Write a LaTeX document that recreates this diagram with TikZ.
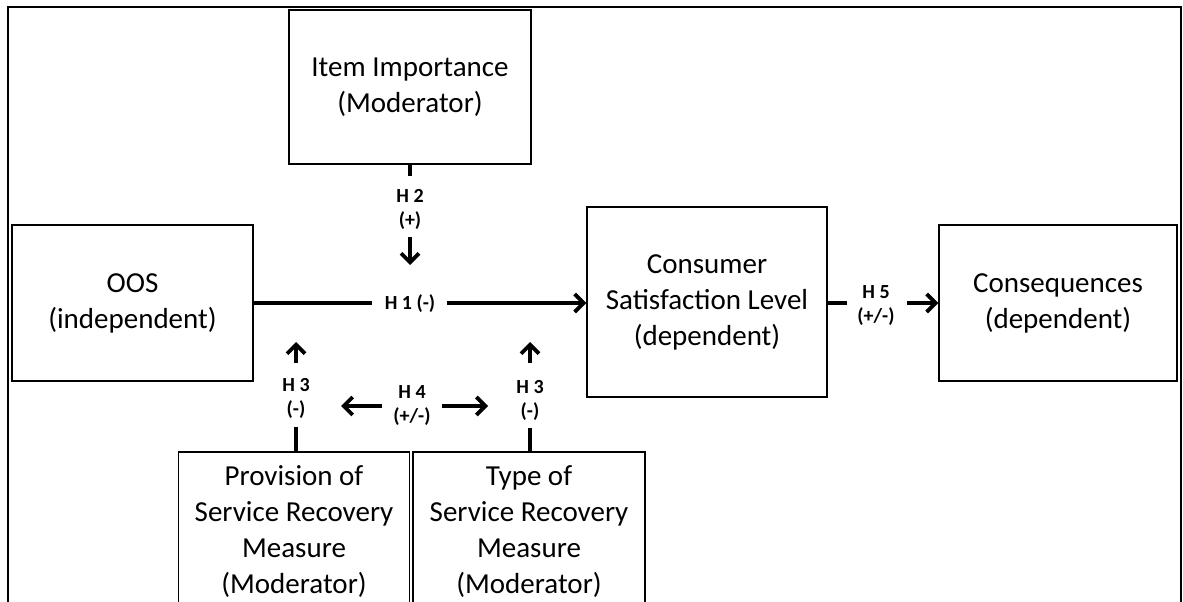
\documentclass[tikz,border=0pt]{standalone}
\usepackage{fontspec}
\setmainfont{Carlito}
\usetikzlibrary{arrows.meta}
\begin{document}
\begin{tikzpicture}[x=1pt,y=-1pt,
  box/.style={draw=black, line width=1.4pt, align=center, inner sep=0pt,
              font=\fontsize{29}{36}\selectfont},
  hyp/.style={align=center, inner sep=0pt, font=\fontsize{20}{24}\selectfont\bfseries},
  stem/.style={line width=3.8pt},
  arr/.style={line width=3.8pt, -{Straight Barb[length=9pt,width=18pt]}},
  frame/.style={line width=2.6pt}]
\useasboundingbox (0,0) rectangle (1183,602);
\clip (0,0) rectangle (1183,602);

% outer frame (open at the bottom)
\draw[frame] (8,620) -- (8,7) -- (1181,7) -- (1181,620);

% constructs
\node[box, minimum width=242pt, minimum height=154pt] (imp) at (410,87)
  {Item Importance\\(Moderator)};
\node[box, minimum width=241pt, minimum height=156pt] (oos) at (132.5,303)
  {OOS\\(independent)};
\node[box, minimum width=240pt, minimum height=190pt] (cons) at (707,302)
  {Consumer\\Satisfaction Level\\(dependent)};
\node[box, minimum width=238pt, minimum height=156pt] (conq) at (1058,303)
  {Consequences\\(dependent)};
\node[box, minimum width=231pt, minimum height=160pt] (prov) at (294,532)
  {Provision of\\Service Recovery\\Measure\\(Moderator)};
\node[box, minimum width=232pt, minimum height=160pt] (type) at (529,532)
  {Type of\\Service Recovery\\Measure\\(Moderator)};

% hypothesis labels
\node[hyp] (h1) at (410,304) {H 1 (-)};
\node[hyp] (h2) at (410,209) {H 2\\(+)};
\node[hyp] (h3a) at (296,398) {H 3\\(-)};
\node[hyp] (h3b) at (530,400) {H 3\\(-)};
\node[hyp] (h4) at (412,406) {H 4\\(+/-)};
\node[hyp] (h5) at (876,306) {H 5\\(+/-)};

% free ends of the moderating arrows
\coordinate (h2s) at (410,176);
\coordinate (h2a) at (410,237);
\coordinate (h2b) at (410,265);
\coordinate (h3as) at (296,427);
\coordinate (h3aa) at (296,363);
\coordinate (h3ab) at (296,342);
\coordinate (h3bs) at (530,428);
\coordinate (h3ba) at (530,363);
\coordinate (h3bb) at (530,342);
\coordinate (h4la) at (382,406);
\coordinate (h4lb) at (341,406);
\coordinate (h4ra) at (442,406);
\coordinate (h4rb) at (488,406);
\coordinate (h1a) at (372,303);
\coordinate (h1b) at (447,303);
\coordinate (h5s) at (847,303);
\coordinate (h5a) at (907,303);

% H1: OOS -> satisfaction
\draw[stem] (oos.east) -- (h1a);
\draw[arr] (h1b) -- (cons.west |- h1b);

% H2: item importance
\draw[stem] (imp.south) -- (h2s);
\draw[arr] (h2a) -- (h2b);

% H3: service recovery moderators
\draw[stem] (prov.north -| h3as) -- (h3as);
\draw[arr] (h3aa) -- (h3ab);
\draw[stem] (type.north -| h3bs) -- (h3bs);
\draw[arr] (h3ba) -- (h3bb);

% H4: between the two moderators
\draw[arr] (h4la) -- (h4lb);
\draw[arr] (h4ra) -- (h4rb);

% H5: satisfaction -> consequences
\draw[stem] (cons.east |- h5s) -- (h5s);
\draw[arr] (h5a) -- (conq.west |- h5a);
\end{tikzpicture}
\end{document}
